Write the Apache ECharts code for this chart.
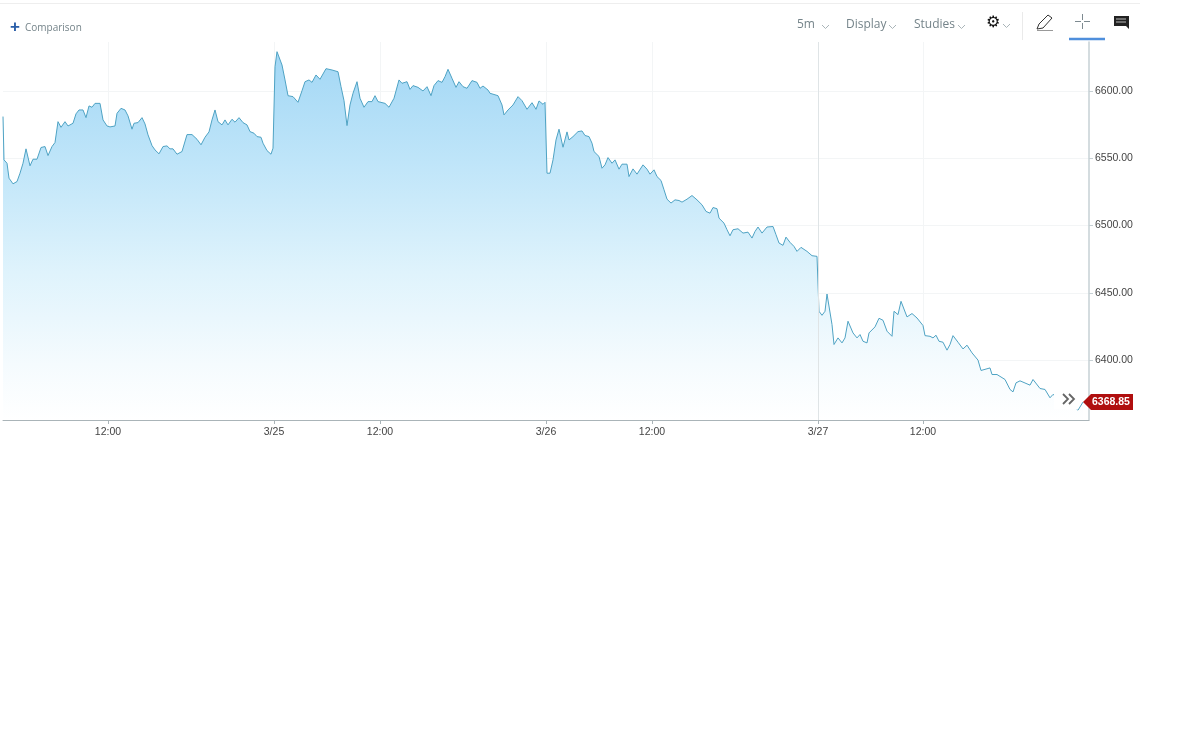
<!DOCTYPE html>
<html><head><meta charset="utf-8">
<style>html,body{margin:0;padding:0;background:#fff}#c{width:1200px;height:737px}</style>
<script src="https://cdn.jsdelivr.net/npm/echarts@6/dist/echarts.min.js"></script>
</head><body><div id="c"></div>
<script>
const bars = [0,1,4,6,10,14,17,20,23,24,27,30,34,38,42,45,49,52,55,58,62,65,70,73,76,80,83,86,89,92,97,100,104,107,112,114,118,122,125,129,131,135,139,142,145,149,152,156,160,164,167,170,174,179,181,184,189,194,198,202,206,209,212,215,219,222,225,229,232,236,240,244,247,251,254,258,260,264,268,270,272,274,279,282,285,290,
295,299,302,306,309,313,317,323,329,335,338,341,344,345,347,350,354,357,361,365,369,372,375,382,386,391,396,399,404,407,410,415,420,424,428,431,435,439,442,445,449,453,456,460,464,469,474,477,480,485,487,495,499,501,505,510,515,519,524,529,533,536,540,542,544,547,550,551,553,556,558,560,564,566,
567,570,575,579,582,586,589,591,596,599,602,605,609,612,616,619,624,626,630,634,640,644,647,651,654,658,661,664,668,672,676,679,684,689,694,699,703,707,710,714,716,721,724,727,730,735,740,745,749,752,755,759,764,770,773,776,780,783,787,791,794,798,804,809,814,
815,816,819,822,824,826,829,831,835,839,842,845,847,850,854,857,860,864,866,872,876,880,884,889,891,895,898,900,904,909,914,920,922,927,930,933,936,940,944,947,950,955,960,964,969,975,978,987,989,994,1002,1007,1010,1013,1017,1027,1030,1037,1042,1047,1050,1060,1070,1075,1077,1080];
const prices = [6581,6548.8,6546.3,6535.2,6531,6532.7,6538.9,6546.3,6557,6556.2,6544.4,6549.3,6549.3,6558,6558.7,6552,6558.7,6561.7,6577.2,6573,6577.2,6574,6576,6583,6585.9,6585.9,6580.2,6588.9,6587.9,6590.8,6590.8,6578.5,6574,6573.3,6574,6583.4,6587.1,6585.9,6581.5,6571.6,6576,6576.5,6580.2,6575.5,6567.4,6559.4,6556.2,6553.3,6558.7,6559.2,6557,6557,6553,6555,6555.5,6567.6,6567.6,6564.1,6560,6565.6,6569.6,6578.5,6585.9,6577.2,6574.8,6578.5,6574.8,6579,6576.8,6580.2,6576.5,6574.8,6569.8,6568.6,6566.1,6565.6,6561.2,6555.7,6553,6557.5,6618,6629.2,6619.3,6608.2,6596.5,6595.8,
6591.6,6600.2,6606.9,6608.2,6606.4,6611.9,6608.7,6616.6,6615.6,6614.3,6603.2,6592.8,6574.3,6574.3,6589.6,6598.3,6606.9,6594.6,6587.9,6592.1,6592.1,6596.5,6592.1,6590.8,6587.9,6594.6,6608.2,6605.7,6606.9,6601.2,6604,6602.7,6600,6603.2,6596.5,6604,6607.7,6606.4,6610.6,6616.1,6609.4,6602.7,6606.9,6603.2,6602,6607.7,6606.4,6602,6603.7,6600.7,6598.3,6596.5,6589.6,6582.2,6585.9,6589.6,6595.8,6592.8,6586.4,6591.3,6586.4,6592.6,6590.1,6591.6,6538.9,6538.9,6548.8,6550,6563.6,6571.6,6571,6558.2,6569.6,6563.6,
6563.6,6566.1,6569.8,6570.3,6566.9,6566.1,6561.2,6555,6551.3,6542.6,6545.1,6550.5,6546.3,6548.8,6541.9,6545.6,6545.6,6536.4,6542.1,6538.2,6545.1,6541.9,6538.2,6541.4,6536.4,6533.5,6526.6,6519.6,6516.7,6519.1,6518.6,6517.4,6519.6,6522.3,6519.1,6515.4,6510.5,6509.2,6513.4,6512.5,6505.5,6501.8,6496.9,6492.4,6496.9,6497.6,6494.4,6495.1,6490.7,6495.6,6498.9,6494.4,6498.9,6499.3,6493.2,6487,6485.3,6491.4,6487.5,6484.5,6480.8,6483.8,6480.8,6477.6,6477.1,
6477.1,6436.3,6433.3,6436.3,6449.1,6449.1,6426.4,6411.6,6416.5,6412.8,6416.5,6428.9,6428.9,6420.2,6416.5,6419,6414,6412.8,6420.2,6424.7,6431.1,6429.6,6421.5,6417.7,6436.3,6433.8,6443.7,6443.7,6432.1,6434.6,6431.3,6425.7,6418.2,6417.7,6416.5,6418.5,6414,6413.3,6407.4,6411.6,6418.2,6413.3,6408.3,6411.1,6405.4,6400,6392.3,6394.2,6389.3,6389.3,6385.6,6378.2,6376.4,6383.1,6384.6,6381.4,6385.6,6378.9,6378.2,6372,6374.5,6370,6366,6362.8,6362.8,6368.85];
const xTickBars = [105,271,377,543,649,815,920];
const xTickLabels = ['12:00','3/25','12:00','3/26','12:00','3/27','12:00'];
const dayBars = [815];
const yTicks = [6400,6450,6500,6550,6600];
const lastPrice = 6368.85;

const chart = echarts.init(document.getElementById('c'), null, {renderer:'canvas'});
const font = '"Liberation Sans", Arial, sans-serif';
const uiFont = '"Open Sans", Lato, sans-serif';
const grey = '#75848a';
function chevron(x, y) {
  return {type:'polyline', silent:true, shape:{points:[[x,y],[x+3.5,y+3.5],[x+7,y]]}, style:{stroke:'#a9b4b8',lineWidth:1,fill:null}};
}
function line(x1,y1,x2,y2,stroke,lw){
  return {type:'line', silent:true, shape:{x1,y1,x2,y2}, style:{stroke,lineWidth:lw||1}};
}
function label(x,y,text,size,fill,weight,family){
  return {type:'text', silent:true, x, y, style:{text,fontSize:size,fill,fontWeight:weight||'normal',fontFamily:family||uiFont,textVerticalAlign:'middle',textAlign:'left'}};
}
chart.setOption({
  animation:false,
  backgroundColor:'#fff',
  grid:{left:3, top:42, width:1086, height:378, containLabel:false},
  xAxis:{type:'value', min:0, max:1086,
    axisLine:{lineStyle:{color:'#aab4b8'}, onZero:false},
    axisTick:{show:true, customValues:xTickBars, length:4, lineStyle:{color:'#aab4b8'}},
    axisLabel:{customValues:xTickBars, color:'#444', fontSize:10.5, fontFamily:font, margin:7,
      formatter:v=>xTickLabels[xTickBars.indexOf(v)]},
    splitLine:{show:true, lineStyle:{color:'#f3f5f6'}}},
  yAxis:{type:'value', position:'right', min:6355.5, max:6636.4,
    axisLine:{show:true, onZero:false, lineStyle:{color:'#c6d0d4', width:1.5}},
    axisTick:{show:true, customValues:yTicks, length:4, lineStyle:{color:'#c6d0d4'}},
    axisLabel:{customValues:yTicks, color:'#444', fontSize:10.5, fontFamily:font, margin:6,
      formatter:v=>v.toFixed(2)},
    splitLine:{show:true, lineStyle:{color:'#f3f5f6'}}},
  series:[{type:'line', data:bars.map((b,i)=>[b,prices[i]]), showSymbol:false, symbol:'none',
    lineStyle:{color:'#4fa3c4', width:1},
    areaStyle:{opacity:1, color:new echarts.graphic.LinearGradient(0,0,0,1,[
      {offset:0,color:'#a2d7f5'},{offset:0.3,color:'#bfe5f9'},{offset:0.6,color:'#dff3fc'},{offset:0.85,color:'#f5fbfe'},{offset:1,color:'#ffffff'}])},
    markLine:{silent:true, symbol:'none', label:{show:false},
      lineStyle:{color:'#dfe4e6', width:1, type:'solid'},
      data:dayBars.map(b=>({xAxis:b}))},
    z:2}]
});
const tagY = chart.convertToPixel({yAxisIndex:0}, lastPrice);
const tagX = 1083;
chart.setOption({graphic:[
  line(0,3.5,1140,3.5,'#eeeeee',1),
  label(10,27,'+',17,'#2a5ea8','bold',font),
  label(25,28,'Comparison',10,grey),
  label(797,25,'5m',12,grey), chevron(822,25),
  label(846,25,'Display',12,grey), chevron(889,25),
  label(914,25,'Studies',12,grey), chevron(958,25),
  label(986,23,'\u2699',16,'#111','bold','"DejaVu Sans"'), chevron(1003,24),
  line(1022.5,12,1022.5,40,'#eaeaea',1),
  {type:'polygon', silent:true, shape:{points:[[1037,29],[1039,24],[1048,15],[1052,18],[1043,28]]}, style:{fill:'#fff',stroke:'#333',lineWidth:1}},
  line(1037,30.5,1053,30.5,'#999',1),
  line(1082.5,14,1082.5,20,'#7d8a90',1), line(1082.5,23,1082.5,29,'#7d8a90',1),
  line(1075,21.5,1081,21.5,'#7d8a90',1), line(1084,21.5,1090,21.5,'#7d8a90',1),
  {type:'polygon', silent:true, shape:{points:[[1114,16],[1129,16],[1129,29],[1126,26],[1114,26]]}, style:{fill:'#222'}},
  line(1116,19,1126,19,'#bbb',1), line(1116,22,1126,22,'#bbb',1),
  line(1069,39,1105,39,'#4f8fdc',2.5),
  {type:'rect', silent:true, z:20, shape:{x:1054,y:391,width:24,height:18.5}, style:{fill:'#fff'}},
  line(1055,409.5,1076,409.5,'#e3e8ea',1),
  {type:'polyline', z:21, silent:true, shape:{points:[[1063,394],[1068,399],[1063,404]]}, style:{stroke:'#666',lineWidth:1.8,fill:null}},
  {type:'polyline', z:21, silent:true, shape:{points:[[1069,394],[1074,399],[1069,404]]}, style:{stroke:'#666',lineWidth:1.8,fill:null}},
  {type:'polygon', z:22, silent:true, shape:{points:[[tagX,tagY],[tagX+8,tagY-8],[tagX+50,tagY-8],[tagX+50,tagY+8],[tagX+8,tagY+8]]}, style:{fill:'#b00f0f'}},
  {type:'text', z:23, silent:true, x:tagX+9, y:tagY, style:{text:lastPrice.toFixed(2),fontSize:10.5,fontWeight:'bold',fill:'#fff',fontFamily:font,textVerticalAlign:'middle'}}
]});
</script></body></html>
